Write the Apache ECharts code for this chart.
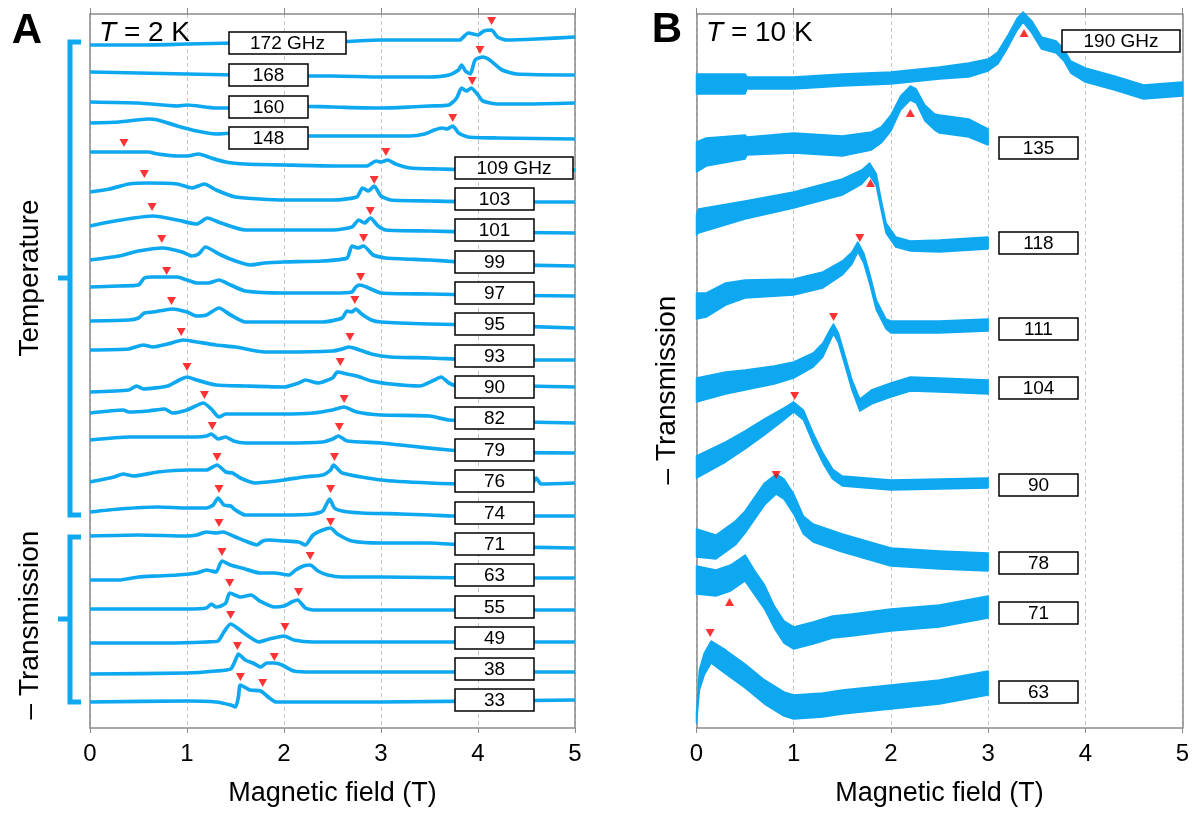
<!DOCTYPE html>
<html>
<head>
<meta charset="utf-8">
<script src="https://cdn.jsdelivr.net/npm/echarts@6.0.0/dist/echarts.min.js"></script>
<style>
html,body{margin:0;padding:0;background:#fff;}
#chart{width:1204px;height:815px;}
</style>
</head>
<body>
<div id="chart"></div>
<script>
var FONT = '"Liberation Sans", Arial, sans-serif';
var BLUE = '#0ea8f1';

// vertical scale: stacked offset, a.u., grows downward
// panel A, T = 2 K (frequencies top to bottom)
var freqA = ['172 GHz','168','160','148','109 GHz','103','101','99','97','95','93','90','82','79','76','74','71','63','55','49','38','33'];

var a172 = [[0,45],[0.5,45],[1.0,44],[1.5,43],[2.0,42],[2.5,42],[3.0,40],[3.5,40],[3.81,40],[3.9,33],[4.0,35],[4.06,31],[4.14,30],[4.2,37],[4.3,40],[4.6,39],[5.0,37]];
var a168 = [[0,72],[0.5,73],[1.0,74],[1.5,75],[2.0,76],[2.5,76],[3.0,77],[3.5,77],[3.7,75],[3.8,70],[3.83,65],[3.87,71],[3.92,74],[3.97,60],[4.05,57],[4.12,60],[4.25,70],[4.4,74],[5.0,75]];
var a160 = [[0,102],[0.5,103],[0.9,106],[1.0,105],[1.3,108],[1.5,108],[1.8,106],[2.0,106],[2.5,107],[3.0,108],[3.3,107],[3.5,106],[3.7,105],[3.78,98],[3.83,88],[3.88,91],[3.93,88],[4.0,95],[4.05,101],[4.2,104],[4.5,104],[5.0,103]];
var a148 = [[0,123],[0.3,122],[0.6,119],[0.7,120],[0.9,126],[1.1,131],[1.3,134],[1.5,133],[1.7,134],[2.0,136],[2.5,136],[3.0,136],[3.3,136],[3.45,134],[3.55,130],[3.63,128],[3.68,129],[3.74,126],[3.8,133],[3.9,137],[4.2,138],[5.0,139]];
var a109 = [[0,152],[0.3,152],[0.6,152],[0.7,154],[0.9,156],[1.0,156],[1.12,154],[1.25,158],[1.4,162],[1.6,164],[2.0,165],[2.5,166],[2.85,166],[2.95,161],[3.0,162],[3.07,160],[3.15,164],[3.3,168],[3.6,169],[4.0,170],[5.0,170]];
var a103 = [[0,192],[0.2,189],[0.4,184],[0.6,183],[0.9,184],[1.05,188],[1.18,184],[1.3,190],[1.5,197],[2.0,200],[2.5,200],[2.75,197],[2.81,188],[2.87,191],[2.93,186],[3.0,196],[3.1,200],[3.5,201],[4.0,202],[5.0,202]];
var a101 = [[0,226],[0.2,222],[0.45,218],[0.65,216],[0.9,220],[1.1,224],[1.21,218],[1.35,223],[1.6,230],[2.0,230],[2.5,230],[2.7,227],[2.77,220],[2.83,223],[2.89,218],[2.97,226],[3.05,230],[3.5,231],[4.0,232],[5.0,233]];
var a99 = [[0,260],[0.3,256],[0.5,251],[0.75,248],[0.95,252],[1.05,256],[1.12,254],[1.19,247],[1.35,255],[1.5,261],[1.65,265],[1.8,263],[2.0,262],[2.4,261],[2.65,258],[2.7,246],[2.76,248],[2.82,246],[2.92,255],[3.05,258],[3.5,260],[3.8,262],[4.0,264],[5.0,266]];
var a97 = [[0,287],[0.3,286],[0.5,285],[0.56,278],[0.65,277],[0.9,277],[1.0,280],[1.1,283],[1.22,283],[1.33,280],[1.45,285],[1.6,291],[2.0,293],[2.5,293],[2.7,292],[2.74,287],[2.78,285],[2.85,287],[3.0,293],[3.5,294],[4.0,295],[5.0,296]];
var a95 = [[0,321],[0.4,320],[0.5,318],[0.56,313],[0.65,312],[0.85,309],[1.0,312],[1.1,316],[1.2,315],[1.33,308],[1.45,315],[1.6,322],[2.0,322],[2.4,322],[2.6,318],[2.65,311],[2.7,312],[2.74,309],[2.8,314],[2.9,320],[3.0,322],[3.5,324],[4.0,325],[5.0,328]];
var a93 = [[0,350],[0.4,349],[0.55,345],[0.65,347],[0.8,344],[0.96,340],[1.1,342],[1.3,345],[1.5,347],[1.8,352],[2.0,352],[2.5,351],[2.6,349],[2.67,347],[2.75,349],[2.9,354],[3.1,357],[3.5,358],[4.0,360],[5.0,360]];
var a90 = [[0,392],[0.4,390],[0.48,386],[0.55,389],[0.8,386],[0.92,380],[1.0,377],[1.1,380],[1.3,385],[1.6,386],[2.0,387],[2.15,383],[2.22,380],[2.35,383],[2.5,378],[2.55,372],[2.65,374],[2.75,376],[2.9,381],[3.1,384],[3.4,386],[3.55,380],[3.62,377],[3.7,383],[3.8,386],[4.5,386],[5.0,387]];
var a82 = [[0,413],[0.34,410],[0.4,412],[0.6,411],[0.77,409],[0.85,413],[1.0,410],[1.17,403],[1.25,409],[1.33,417],[1.4,414],[1.6,414],[2.0,414],[2.3,413],[2.5,410],[2.62,407],[2.75,412],[3.0,415],[3.5,416],[3.7,420],[4.0,421],[5.0,423]];
var a79 = [[0,440],[0.4,437],[0.8,437],[1.1,437],[1.2,436],[1.25,434],[1.32,439],[1.4,437],[1.48,441],[1.6,443],[2.0,443],[2.4,442],[2.5,439],[2.56,436],[2.65,441],[3.0,443],[3.3,446],[3.7,450],[4.0,452],[5.0,453]];
var a76 = [[0,482],[0.25,477],[0.34,474],[0.45,476],[0.7,472],[1.0,470],[1.2,470],[1.31,465],[1.4,472],[1.47,473],[1.55,478],[1.7,483],[2.0,480],[2.2,477],[2.4,475],[2.48,470],[2.51,465],[2.6,473],[3.0,480],[3.5,483],[3.9,484],[4.55,484],[4.6,478],[4.65,484],[5.0,483]];
var a74 = [[0,512],[0.3,509],[0.7,507],[1.0,508],[1.2,508],[1.27,505],[1.32,498],[1.38,505],[1.45,506],[1.5,510],[1.6,515],[2.0,515],[2.3,514],[2.4,511],[2.47,499],[2.52,508],[2.6,511],[2.8,513],[3.2,514],[3.5,515],[3.75,516],[5.0,516]];
var a71 = [[0,536],[0.5,535],[1.0,536],[1.1,535],[1.2,532],[1.3,533],[1.37,532],[1.5,537],[1.6,541],[1.72,545],[1.78,541],[1.85,540],[2.0,541],[2.15,542],[2.22,545],[2.3,535],[2.4,530],[2.48,528],[2.55,534],[2.7,541],[3.0,543],[3.5,543],[4.0,546],[5.0,548]];
var a63 = [[0,580],[0.3,580],[0.5,577],[0.7,576],[0.9,575],[1.1,573],[1.2,570],[1.3,572],[1.36,561],[1.45,565],[1.6,569],[1.75,573],[1.9,573],[2.05,575],[2.12,570],[2.2,566],[2.27,565],[2.35,571],[2.45,575],[2.6,577],[3.0,577],[4.0,578],[5.0,578]];
var a55 = [[0,609],[0.5,609],[1.0,609],[1.2,608],[1.25,604],[1.3,607],[1.35,606],[1.4,603],[1.44,593],[1.55,597],[1.66,595],[1.75,601],[1.9,607],[2.0,606],[2.08,602],[2.14,600],[2.22,608],[2.3,610],[3.0,610],[4.0,610],[5.0,610]];
var a49 = [[0,643],[0.8,643],[1.2,642],[1.32,641],[1.38,632],[1.45,624],[1.52,628],[1.6,634],[1.74,642],[1.85,639],[2.0,636],[2.1,640],[2.3,642],[3.0,642],[5.0,642]];
var a38 = [[0,674],[1.0,673],[1.3,671],[1.45,669],[1.5,660],[1.53,654],[1.6,660],[1.68,663],[1.76,667],[1.82,663],[1.9,663],[1.98,665],[2.1,671],[2.3,672],[5.0,672]];
var a33 = [[0,702],[1.0,701],[1.3,702],[1.45,705],[1.5,707],[1.53,697],[1.55,685],[1.65,690],[1.76,691],[1.85,698],[1.92,702],[2.2,702],[3.0,702],[5.0,700]];
var tracesA = [a172,a168,a160,a148,a109,a103,a101,a99,a97,a95,a93,a90,a82,a79,a76,a74,a71,a63,a55,a49,a38,a33];

// resonance markers, panel A (field T, offset)
var peaksA = [[4.14,21],[4.02,50],[3.94,81],[3.74,118],
  [0.35,143],[3.05,152],[0.56,174],[2.93,180],[0.64,207],[2.89,211],[0.74,239],[2.82,238],
  [0.79,271],[2.79,277],[0.84,301],[2.73,300],[0.94,332],[2.68,337],[1.0,367],[2.58,362],
  [1.18,395],[2.62,399],[1.26,426],[2.57,427],[1.31,457],[2.52,457],[1.33,489],[2.48,489],
  [1.33,523],[2.48,522],[1.36,552],[2.27,556],[1.44,583],[2.15,592],[1.45,615],[2.01,627],
  [1.52,646],[1.9,657],[1.55,677],[1.78,683]];

// panel B, T = 10 K: [field, centre, noise half-width]
var freqB = ['190 GHz','135','118','111','104','90','78','71','63'];
var b190 = [[0,84,10],[0.5,84,10],[0.52,83,6],[1.0,83,6],[1.5,80,6],[2.0,78,6],[2.5,73,6],[2.8,70,7],[3.0,65,6],[3.1,58,6],[3.2,42,6],[3.3,24,6],[3.36,17,5],[3.45,27,6],[3.55,43,6],[3.7,47,6],[3.78,55,6],[3.85,67,6],[4.0,75,7],[4.3,83,7],[4.6,92,7],[5.0,89,7]];
var b135 = [[0,157,15],[0.1,152,14],[0.5,147,12],[0.52,146,9],[1.0,143,10],[1.5,146,10],[1.8,141,9],[1.9,135,8],[2.0,123,8],[2.1,103,7],[2.2,93,7],[2.26,96,7],[2.35,113,8],[2.45,122,8],[2.5,124,9],[2.8,128,9],[3.0,137,8]];
var b118 = [[0,225,10],[0.02,221,12],[0.5,210,9],[1.0,200,8],[1.5,187,8],[1.7,177,7],[1.78,169,6],[1.85,180,6],[1.9,205,5],[1.95,228,5],[2.05,242,5],[2.2,246,5],[2.5,246,6],[3.0,243,6]];
var b111 = [[0,306,13],[0.1,305,12],[0.3,294,11],[0.5,289,9],[1.0,287,8],[1.3,280,8],[1.5,268,7],[1.6,258,6],[1.66,247,5],[1.72,258,5],[1.78,278,5],[1.85,305,5],[1.95,324,5],[2.0,327,6],[2.5,327,6],[3.0,325,6]];
var b104 = [[0,390,12],[0.3,383,11],[0.5,380,10],[0.8,375,9],[1.0,370,8],[1.2,360,7],[1.3,350,7],[1.36,338,6],[1.41,329,5],[1.46,338,5],[1.52,358,5],[1.6,385,5],[1.68,405,6],[1.8,397,7],[2.0,390,7],[2.2,384,7],[2.5,385,7],[3.0,387,7]];
var b90 = [[0,467,11],[0.3,452,10],[0.5,440,9],[0.7,427,8],[0.9,414,6],[1.0,407,5],[1.1,415,5],[1.2,438,5],[1.3,458,5],[1.4,474,5],[1.5,481,5],[2.0,485,5],[2.5,484,5],[3.0,483,5]];
var b78 = [[0,543,14],[0.2,547,12],[0.4,533,12],[0.5,522,11],[0.7,494,11],[0.82,484,10],[0.9,489,10],[1.0,504,10],[1.1,525,9],[1.2,533,9],[1.5,543,9],[2.0,557,9],[2.5,560,9],[3.0,562,9]];
var b71 = [[0,580,14],[0.2,583,13],[0.35,578,13],[0.5,568,13],[0.6,583,12],[0.7,597,12],[0.8,617,11],[0.9,632,11],[1.0,638,11],[1.2,633,11],[1.4,627,11],[1.6,625,11],[2.0,620,11],[2.5,616,11],[3.0,607,11]];
var b63 = [[0,718,5],[0.03,680,10],[0.08,664,11],[0.15,652,11],[0.3,662,12],[0.5,676,12],[0.7,692,12],[0.9,704,12],[1.0,707,12],[1.3,705,12],[1.5,702,12],[2.0,697,12],[2.5,692,12],[3.0,683,12]];
var bandsB = [b190,b135,b118,b111,b104,b90,b78,b71,b63];

var peaksBdown = [[1.68,238],[1.41,317],[1.01,396],[0.82,475],[0.14,633]];
var peaksBup = [[3.37,33],[2.2,113],[1.79,183],[0.34,602]];

var fieldTicks = [0,1,2,3,4,5];

function bottomAxis(grid) {
  return {
    gridIndex: grid, type: 'value', min: 0, max: 5, interval: 1, position: 'bottom',
    name: 'Magnetic field (T)', nameLocation: 'middle', nameGap: 52,
    nameTextStyle: {fontSize: 27, color: '#000', fontFamily: FONT},
    axisLine: {onZero: false, lineStyle: {color: '#8a8a8a', width: 1.5}},
    axisTick: {show: true, length: 5, lineStyle: {color: '#8a8a8a'}},
    axisLabel: {fontSize: 24, color: '#000', fontFamily: FONT, margin: 14,
      showMinLabel: true, showMaxLabel: true,
      formatter: function (v) { return fieldTicks.indexOf(v) >= 0 ? String(v) : ''; }},
    splitLine: {show: true, lineStyle: {color: '#c4c4c4', type: [4, 3], width: 1}}
  };
}
function topAxis(grid) {
  return {
    gridIndex: grid, type: 'value', min: 0, max: 5, interval: 1, position: 'top',
    axisLine: {onZero: false, lineStyle: {color: '#8a8a8a', width: 1.5}},
    axisTick: {show: true, length: 6, lineStyle: {color: '#8a8a8a'}},
    axisLabel: {show: false}, splitLine: {show: false}
  };
}
function sideAxis(grid, pos) {
  return {
    gridIndex: grid, type: 'value', min: 14, max: 728, inverse: true, position: pos,
    axisLine: {show: true, onZero: false, lineStyle: {color: '#8a8a8a', width: 1.5}},
    axisTick: {show: false}, axisLabel: {show: false}, splitLine: {show: false}
  };
}

var series = [];
tracesA.forEach(function (t, i) {
  series.push({
    name: freqA[i], type: 'line', xAxisIndex: 0, yAxisIndex: 0, data: t,
    showSymbol: false, symbol: 'none', smooth: 0.2, silent: true,
    lineStyle: {color: BLUE, width: 3.7, join: 'round'}, z: 3
  });
});
series.push({
  type: 'scatter', xAxisIndex: 0, yAxisIndex: 0, data: peaksA,
  symbol: 'triangle', symbolSize: [9, 8], symbolRotate: 180,
  itemStyle: {color: '#ff0000'}, z: 5, silent: true
});

bandsB.forEach(function (band, i) {
  series.push({
    name: freqB[i], type: 'custom', xAxisIndex: 2, yAxisIndex: 2, silent: true, z: 3,
    data: band.map(function (p) { return [p[0], p[1]]; }),
    renderItem: function (params, api) {
      if (params.dataIndex !== 0) return null;
      var top = band.map(function (p) { return api.coord([p[0], p[1] - p[2]]); });
      var bot = band.map(function (p) { return api.coord([p[0], p[1] + p[2]]); }).reverse();
      return {type: 'polygon', shape: {points: top.concat(bot)},
        style: {fill: BLUE, stroke: BLUE, lineWidth: 1.5, lineJoin: 'round'}};
    }
  });
});
series.push({
  type: 'scatter', xAxisIndex: 2, yAxisIndex: 2, data: peaksBdown,
  symbol: 'triangle', symbolSize: [9, 8], symbolRotate: 180,
  itemStyle: {color: '#ff0000'}, z: 5, silent: true
});
series.push({
  type: 'scatter', xAxisIndex: 2, yAxisIndex: 2, data: peaksBup,
  symbol: 'triangle', symbolSize: [9, 8],
  itemStyle: {color: '#ff0000'}, z: 5, silent: true
});

// frequency tag boxes: [x, top, width]
var boxPosA = [[229,32,117],[229,64,79],[229,96,79],[229,127,79],[455,157,118],[455,188,79],[455,219,79],[455,251,79],
  [455,282,79],[455,313,79],[455,345,79],[455,376,79],[455,407,79],[455,439,79],[455,470,79],[455,502,79],
  [455,533,79],[455,564,79],[455,596,79],[455,627,79],[455,658,79],[455,689,79]];
var boxPosB = [[1062,30,118],[999,137,79],[999,232,79],[999,318,79],[999,377,79],[999,474,79],[999,552,79],[999,602,79],[999,681,79]];

var graphic = [];
function addBoxes(labels, pos) {
  labels.forEach(function (lab, i) {
    var p = pos[i];
    graphic.push({type: 'rect', z: 100, shape: {x: p[0], y: p[1], width: p[2], height: 22},
      style: {fill: '#fff', stroke: '#000', lineWidth: 1.5}});
    graphic.push({type: 'text', z: 101, x: p[0] + p[2] / 2, y: p[1] + 11.5,
      style: {text: lab, font: '19px ' + FONT, fill: '#000', align: 'center', verticalAlign: 'middle',
        textAlign: 'center', textVerticalAlign: 'middle'}});
  });
}
addBoxes(freqA, boxPosA);
addBoxes(freqB, boxPosB);

function label(txt, x, y, font, rot, align) {
  graphic.push({type: 'text', z: 100, x: x, y: y, rotation: rot || 0,
    style: {text: txt, font: font, fill: '#000', align: align || 'center', verticalAlign: 'middle',
      textAlign: align || 'center', textVerticalAlign: 'middle',
      rich: {i: {font: 'italic ' + font, fill: '#000'}}}});
}
label('A', 27, 31, 'bold 42px ' + FONT);
label('B', 667, 30, 'bold 42px ' + FONT);
label('{i|T} = 2 K', 99, 33, '28px ' + FONT, 0, 'left');
label('{i|T} = 10 K', 706, 33, '28px ' + FONT, 0, 'left');
label('Temperature', 30, 278, '28px ' + FONT, Math.PI / 2);
label('\u2013 Transmission', 30, 625, '28px ' + FONT, Math.PI / 2);
label('\u2013 Transmission', 667, 390, '28px ' + FONT, Math.PI / 2);

// brackets grouping the panel A traces
graphic.push({type: 'polyline', z: 100, shape: {points: [[81,42],[70,42],[70,278],[58,278],[70,278],[70,515],[81,515]]},
  style: {stroke: BLUE, lineWidth: 5, fill: null, lineJoin: 'miter'}});
graphic.push({type: 'polyline', z: 100, shape: {points: [[81,537],[70,537],[70,619],[58,619],[70,619],[70,702],[81,702]]},
  style: {stroke: BLUE, lineWidth: 5, fill: null, lineJoin: 'miter'}});

var option = {
  animation: false,
  backgroundColor: '#fff',
  grid: [
    {left: 90, right: 629, top: 14, bottom: 87},
    {left: 696.5, right: 21.5, top: 14, bottom: 87}
  ],
  xAxis: [bottomAxis(0), topAxis(0), bottomAxis(1), topAxis(1)],
  yAxis: [sideAxis(0, 'left'), sideAxis(0, 'right'), sideAxis(1, 'left'), sideAxis(1, 'right')],
  series: series,
  graphic: graphic
};

var myChart = echarts.init(document.getElementById('chart'), null, {renderer: 'canvas'});
myChart.setOption(option);
</script>
</body>
</html>
